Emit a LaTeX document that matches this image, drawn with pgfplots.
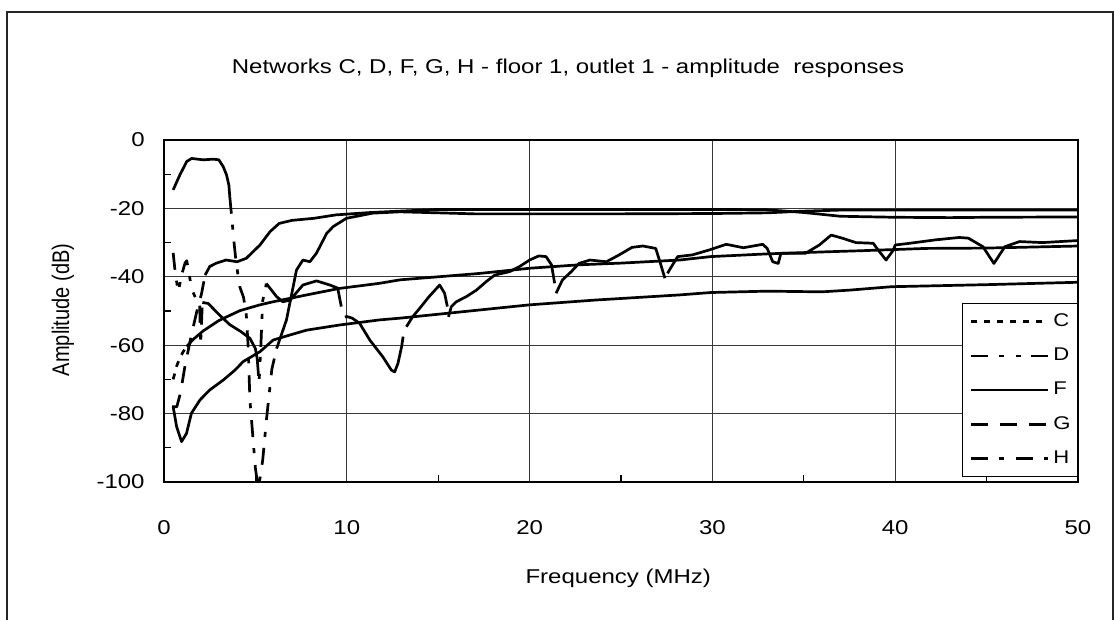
\documentclass[border=0pt]{standalone}
\usepackage{fontspec}
\setmainfont{Liberation Sans}[FakeStretch=1.2]
\newfontfamily\plainfont{Liberation Sans}
\usepackage{graphicx}
\usepackage{pgfplots}
\pgfplotsset{compat=1.18}
\newcommand\fs{\fontsize{10}{12}\selectfont}
\newcommand\fl{\fontsize{9.2}{11}\selectfont}
\tikzset{
 Cst/.style={line width=1.35pt, line join=round, dash pattern=on 3pt off 3.5pt},
 Dst/.style={line width=1.35pt, line join=round, dash pattern=on 8.5pt off 5.5pt on 2.5pt off 6pt on 2.5pt off 5pt},
 Gst/.style={line width=1.35pt, line join=round, dash pattern=on 8.5pt off 6pt},
 Hst/.style={line width=1.35pt, line join=round, dash pattern=on 8.5pt off 5.5pt on 2.5pt off 6pt},
 Sst/.style={line width=1.35pt, line join=round, solid},
}
\begin{document}
\begin{tikzpicture}
\useasboundingbox (0,0) rectangle (557pt,310pt);
\draw[line width=1pt, black!85] (3.5pt,-5pt) -- (3.5pt,304pt) -- (556.5pt,304pt) -- (556.5pt,-5pt);
\begin{axis}[
 at={(82pt,69pt)}, anchor=south west, width=457pt, height=171pt, scale only axis,
 xmin=0, xmax=50, ymin=-100, ymax=0, clip=false,
 axis line style={line width=0.6pt, black},
 xtick={0,10,...,50}, xticklabels={0,10,20,30,40,50},
 ytick={-100,-80,...,0}, yticklabels={-100,-80,-60,-40,-20,0},
 minor xtick={5,15,25,35,45}, minor ytick={-90,-70,-50,-30,-10},
 tick pos=left, major tick length=0pt, minor tick length=3.3pt,
 tick style={black, line width=0.6pt},
 grid=major, major grid style={black!78, line width=0.55pt},
 xticklabel style={font=\fs, anchor=north, inner sep=0pt, yshift=-19pt},
 yticklabel style={font=\fs, anchor=east, inner sep=0pt, xshift=-9.5pt},
 title={Networks C, D, F, G, H - floor 1, outlet 1 - amplitude\ \ responses},
 title style={font=\fs, at={(axis description cs:0.442,1.1754)}, anchor=center},
 xlabel={Frequency (MHz)},
 xlabel style={font=\fs, at={(axis description cs:0.497,-0.2807)}, anchor=center},
 ylabel={\scalebox{1}[1.2]{\plainfont\fs Amplitude (dB)}},
 ylabel style={at={(axis description cs:-0.1105,0.503)}, anchor=center},
 legend style={at={(axis cs:43.66,-47.66)}, anchor=north west, draw=black, line width=0.6pt, fill=white,
   inner xsep=3.5pt, inner ysep=0.5pt, font=\fl, row sep=0pt,
   nodes={inner sep=0pt, minimum height=17.1pt},
   /tikz/every odd column/.append style={column sep=2pt}},
 legend cell align=left,
 legend image code/.code={\draw[#1, line width=1.35pt] (0pt,0pt) -- (38.5pt,0pt);},
 unbounded coords=jump,
]
\addlegendimage{Cst}\addlegendentry{C}
\addlegendimage{Dst}\addlegendentry{D}
\addlegendimage{Sst}\addlegendentry{F}
\addlegendimage{Gst}\addlegendentry{G}
\addlegendimage{Hst}\addlegendentry{H}

% C
\addplot[Cst, forget plot] coordinates {(0.5,-70) (0.7,-66) (0.87,-63.7) (1.04,-62) (1.24,-60.4)};
\addplot[Sst, forget plot] coordinates {(1.24,-60.4) (1.6,-58.3) (2.15,-55.8) (3.0,-52.8) (4.15,-49.9) (5.25,-48.2) (5.97,-47.3) (6.9,-46.3) (7.8,-45.3) (9.6,-43.4) (11.8,-41.9) (12.9,-40.9) (15,-40) (17.3,-39) (20,-37.5) (22.7,-36.5) (25,-36) (28.2,-35.1) (29.9,-34.1) (33,-33.3) (36.2,-32.7) (38,-32.4) (41.7,-31.7) (45,-31.6) (50,-31)};

% D
\addplot[Dst, forget plot] coordinates {(0.5,-33) (0.6,-38) (0.69,-41.4) (0.78,-44.5) (0.96,-39.5) (1.15,-36) (1.24,-35.3) (1.33,-37.5) (1.5,-43.4) (1.75,-46.5) (1.95,-48) (2.0,-60) (2.1,-47.5)};
\addplot[Sst, forget plot] coordinates {(2.1,-47.5) (2.42,-47.8) (3.0,-51) (3.6,-54) (4.2,-56) (4.7,-58) (5.0,-61) (5.1,-64)};
\addplot[Dst, forget plot] coordinates {(5.1,-64) (5.2,-71) (5.3,-60) (5.4,-47) (5.6,-42)};
\addplot[Sst, forget plot] coordinates {(5.6,-42) (6.16,-45.8) (6.5,-47.3) (6.9,-46.8) (7.6,-42.4) (8.34,-41.2) (9.07,-42.4) (9.5,-43.3) (9.7,-48.7) (9.8,nan) (9.9,-51.8) (10.0,-51.6) (10.3,-52.1) (10.7,-53.6) (11.26,-58.5) (11.97,-63.4) (12.44,-67.3) (12.62,-67.8) (12.8,-65.3) (13.0,-60.4) (13.08,-57.5) (13.2,nan) (13.26,-54.6) (13.6,-51.7) (13.99,-49.2) (14.5,-45.8) (15.08,-42.4) (15.35,-44.8) (15.5,-48.7) (15.52,nan) (15.56,-51.7) (15.72,-48.7) (15.99,-47.3) (16.54,-45.8) (17.09,-43.9) (17.63,-41.4) (18.09,-39.5) (18.9,-38.5) (19.45,-37.0) (20.0,-35.1) (20.5,-33.9) (20.9,-34.1) (21.2,-36.5) (21.37,-41.9) (21.4,nan) (21.45,-44.8) (21.8,-40.9) (22.28,-38.5) (22.7,-36.1) (23.3,-35.1) (24.2,-35.6) (24.9,-33.6) (25.6,-31.4) (26.2,-31.0) (26.9,-31.7) (27.1,-35.1) (27.4,-40.4) (27.5,nan) (27.55,-39) (27.65,-38.0) (28.1,-34.1) (28.9,-33.6) (29.8,-32.2) (30.75,-30.5) (31.7,-31.5) (32.75,-30.5) (33.0,-31.7) (33.3,-35.6) (33.6,-36.1) (33.75,-33.1) (34.4,-33.1) (35.1,-33.1) (35.85,-30.7) (36.5,-27.8) (37.1,-28.7) (37.85,-30.0) (38.8,-30.2) (39.0,-31.7) (39.5,-35.1) (39.9,-32.2) (40.0,-30.7) (40.8,-30.2) (42.2,-29.2) (43.5,-28.5) (44.0,-28.7) (44.8,-31.2) (45.4,-36.1) (46.0,-31.2) (46.8,-29.7) (48.05,-30.0) (50,-29.4)};

% F
\addplot[Sst, forget plot] coordinates {(0.5,-78) (0.69,-83.8) (0.96,-88.2) (1.23,-85.8) (1.5,-79.9) (1.97,-76) (2.5,-73.1) (3.24,-70.2) (3.88,-67.3) (4.33,-64.8) (5.25,-61.9) (5.97,-58.5) (6.9,-57) (7.8,-55.6) (9.6,-54.1) (11.8,-52.6) (12.9,-52.1) (15.45,-50.7) (20,-48.2) (23.6,-46.8) (28.2,-45.3) (29.9,-44.6) (33,-44.2) (36,-44.4) (37.5,-43.9) (39.8,-42.9) (45,-42.3) (50,-41.6)};

% G
\addplot[Gst, forget plot] coordinates {(0.45,-78) (0.7,-78) (0.9,-74) (1.15,-66) (1.5,-57) (1.8,-50) (2.05,-45) (2.25,-39.5)};
\addplot[Sst, forget plot] coordinates {(2.25,-39.5) (2.5,-37) (2.87,-36) (3.4,-35.1) (4.0,-35.6) (4.5,-34.6) (5.25,-30.7) (5.8,-26.8) (6.3,-24.4) (7.0,-23.5) (8.2,-22.9) (9.4,-21.9) (11.3,-21.2) (12.9,-20.8) (15,-20.3) (20,-20.3) (25,-20.3) (30,-20.3) (33,-20.4) (35,-21.2) (37,-22.3) (40,-22.6) (43,-22.7) (45,-22.6) (50,-22.5)};

% H
\addplot[Sst, forget plot] coordinates {(0.5,-14.6) (0.87,-10.2) (1.24,-6.3) (1.51,-5.4) (2.15,-5.8) (2.7,-5.6) (3.0,-5.8) (3.24,-7.8) (3.42,-10.2) (3.55,-13.2) (3.6,-16.6)};
\addplot[Hst, forget plot] coordinates {(3.6,-16.6) (3.85,-31) (3.95,-36) (4.15,-43) (4.35,-46) (4.5,-51) (4.6,-60) (4.7,-76) (4.85,-86) (5.0,-96) (5.15,-101.5) (5.25,-99) (5.4,-93.6) (5.6,-82) (5.9,-67) (6.16,-61)};
\addplot[Sst, forget plot] coordinates {(6.16,-61) (6.7,-52.6) (7.25,-38) (7.6,-35.1) (7.98,-35.6) (8.34,-33.1) (8.9,-27.3) (9.26,-25.3) (9.98,-22.9) (11.4,-21.4) (12.9,-21.0) (15,-21.3) (17,-21.6) (20,-21.6) (25,-21.6) (30,-21.5) (33,-21.3) (35,-20.8) (37,-20.5) (40,-20.5) (45,-20.5) (50,-20.5)};
\end{axis}
\end{tikzpicture}
\end{document}
